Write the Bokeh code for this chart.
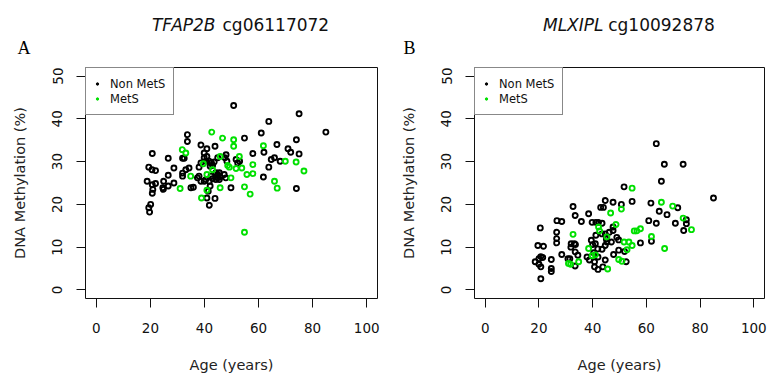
from bokeh.plotting import figure
from bokeh.layouts import row, column
from bokeh.models import Legend, LegendItem, Label, FixedTicker, Range1d
from bokeh.embed import file_html
from bokeh.resources import INLINE

# ---------------- data ----------------
X_LIM = [-4, 104]
Y_LIM = [-2, 52]
X_TICKS = [0, 20, 40, 60, 80, 100]
Y_TICKS = [0, 10, 20, 30, 40, 50]

# Panel A: TFAP2B cg06117072
A_non_age = [20.7, 19.4, 20.6, 18.8, 20.7, 20.9, 20.7, 21.9, 20.1, 19.4, 19.7, 21.9,
             26.6, 26.6, 24.9, 24.6, 26.6, 28.7, 28.7, 33.7, 33.7, 31.9, 32.5, 31.9,
             31.9, 33.1, 34.3, 35.0, 35.9, 38.7, 40.9, 43.9, 39.9, 40.9, 39.9, 40.5,
             44.9, 48.0, 47.6, 48.3, 38.7, 38.0, 41.8, 42.6, 43.6, 43.0, 42.1, 37.4,
             38.7, 38.0, 40.5, 39.9, 44.2, 44.9, 45.5, 44.9, 45.8, 44.2, 45.5, 42.4,
             43.0, 41.8, 42.1, 41.4, 47.3, 47.9, 49.8, 40.9, 43.9, 41.8, 50.8, 54.8,
             57.9, 51.7, 52.3, 53.0, 61.0, 62.0, 63.8, 64.7, 65.9, 68.0, 63.8, 61.8,
             66.8, 70.9, 71.9, 75.0, 74.0, 75.0, 74.0, 84.9, 24.8]
A_non_meth = [31.9, 28.7, 28.1, 25.4, 24.6, 23.5, 22.6, 24.9, 20.0, 19.2, 18.2, 27.9,
              30.8, 26.8, 25.4, 23.9, 24.3, 25.0, 28.5, 36.3, 34.7, 30.8, 30.8, 27.3,
              26.6, 28.1, 28.5, 23.9, 24.0, 33.9, 33.0, 33.6, 32.0, 31.2, 30.9, 30.1,
              30.9, 31.6, 30.9, 30.1, 29.7, 28.7, 30.1, 29.7, 29.9, 29.1, 28.9, 26.2,
              25.4, 26.6, 25.8, 25.4, 27.4, 27.0, 27.4, 26.2, 26.4, 25.8, 25.8, 26.6,
              26.0, 25.4, 24.3, 23.1, 27.0, 26.2, 23.9, 21.5, 21.4, 19.8, 43.1, 35.5,
              31.9, 30.5, 29.7, 30.1, 36.7, 32.2, 39.4, 30.5, 30.9, 30.1, 28.7, 26.4,
              34.0, 33.0, 32.2, 31.8, 35.1, 41.2, 23.7, 36.9, 23.5]
A_met_age = [42.7, 46.7, 50.8, 50.8, 31.8, 33.1, 61.8, 52.9, 45.8, 39.6, 43.0, 48.6,
             49.2, 51.7, 53.8, 57.9, 69.9, 73.9, 76.8, 34.9, 40.9, 49.8, 55.7, 57.9,
             31.0, 45.8, 40.9, 38.9, 54.8, 56.9, 65.9, 66.9, 54.8]
A_met_meth = [36.9, 35.5, 35.1, 33.6, 32.8, 32.0, 33.7, 31.2, 31.2, 29.5, 28.1, 29.1,
              28.7, 28.4, 28.5, 29.3, 30.1, 29.9, 27.8, 26.6, 27.0, 26.2, 27.0, 27.2,
              23.7, 23.9, 23.3, 21.5, 24.1, 22.4, 25.4, 23.8, 13.5]

# Panel B: MLXIPL cg10092878
B_non_age = [18.6, 19.6, 20.0, 20.0, 20.5, 20.7, 20.7, 20.7, 21.7, 21.4, 24.6, 24.6,
             24.6, 26.6, 26.6, 26.6, 26.7, 28.5, 28.5, 30.8, 31.5, 32.0, 33.2, 33.6,
             31.9, 32.7, 33.5, 33.5, 33.5, 34.5, 35.8, 38.5, 37.9, 38.8, 39.8, 39.5,
             40.0, 40.4, 40.7, 40.7, 41.2, 42.2, 41.2, 41.0, 41.9, 42.0, 42.0, 43.0,
             44.0, 43.5, 43.5, 43.5, 43.8, 44.7, 45.1, 44.7, 45.3, 44.7, 44.7, 46.2,
             47.0, 47.6, 47.6, 47.6, 47.8, 49.0, 49.7, 49.7, 50.7, 51.7, 51.9, 52.5,
             54.7, 57.8, 60.9, 61.7, 61.9, 63.7, 63.7, 64.8, 65.6, 66.7, 67.7, 70.8,
             71.7, 73.7, 73.9, 74.9, 74.9, 85.0]
B_non_meth = [6.6, 10.4, 7.3, 6.0, 14.5, 7.8, 5.4, 2.6, 10.2, 7.6, 7.1, 5.0,
              4.3, 13.5, 12.0, 11.0, 16.2, 16.0, 8.3, 7.3, 7.3, 10.8, 10.8, 10.6,
              10.0, 19.5, 17.4, 8.9, 5.6, 8.1, 16.0, 17.8, 7.7, 7.0, 15.8, 11.6,
              10.6, 8.7, 6.6, 5.4, 15.8, 15.8, 12.8, 10.8, 9.6, 7.7, 4.8, 19.3,
              19.3, 15.6, 13.1, 9.5, 5.4, 13.1, 11.9, 10.4, 11.2, 7.0, 20.9, 13.5,
              11.2, 20.5, 14.7, 13.9, 8.3, 12.3, 11.7, 9.3, 20.0, 24.1, 9.0, 6.6,
              20.7, 11.0, 16.2, 20.3, 11.4, 15.6, 34.2, 18.4, 25.4, 29.4, 17.6, 15.6,
              19.2, 29.4, 13.9, 15.5, 16.4, 21.5]
B_met_age = [32.7, 31.0, 31.8, 34.8, 38.5, 39.8, 41.0, 42.2, 42.6, 45.6, 45.3, 46.7,
             48.7, 49.7, 50.9, 50.7, 51.7, 53.5, 52.8, 54.7, 54.7, 55.5, 56.5, 57.8,
             61.9, 65.6, 66.8, 69.8, 73.7, 76.8]
B_met_meth = [13.0, 6.2, 6.0, 6.6, 9.7, 8.0, 8.2, 14.7, 13.8, 4.9, 12.4, 18.0,
              15.3, 7.1, 6.7, 18.9, 11.2, 11.2, 9.4, 10.4, 23.8, 13.8, 13.8, 14.3,
              12.5, 20.5, 9.7, 19.6, 16.8, 14.1]

SERIES_LABELS = ["Non MetS", "MetS"]
SERIES_COLORS = ["#000000", "#00e000"]

FONT = "DejaVu Sans"
HEADER_H = 64
PLOT_H = 312


def make_header(width, gene, probe, letter, probe_left, gene_right, letter_left):
    h = figure(width=width, height=HEADER_H, x_range=Range1d(0, width),
               y_range=Range1d(0, HEADER_H), output_backend="svg",
               toolbar_location=None, title=None,
               x_axis_location=None, y_axis_location=None,
               min_border=0, outline_line_color=None)
    h.grid.visible = False
    h.border_fill_color = "white"
    h.background_fill_color = "white"
    mid = HEADER_H - 24
    h.add_layout(Label(x=gene_right, y=mid, text=gene, text_font=FONT,
                       text_font_style="italic", text_font_size="17px",
                       text_align="right", text_baseline="middle",
                       text_color="#111111"))
    h.add_layout(Label(x=probe_left, y=mid, text=probe, text_font=FONT,
                       text_font_size="17px", text_align="left",
                       text_baseline="middle", text_color="#111111"))
    h.add_layout(Label(x=letter_left, y=HEADER_H - 47.5, text=letter,
                       text_font="Liberation Serif", text_font_size="18px",
                       text_align="left", text_baseline="middle",
                       text_color="#000000"))
    return h


def make_panel(width, min_left, frame_w, non_age, non_meth, met_age, met_meth):
    p = figure(width=width, height=PLOT_H, title=None,
               x_range=Range1d(X_LIM[0], X_LIM[1]),
               y_range=Range1d(Y_LIM[0], Y_LIM[1]),
               output_backend="svg", toolbar_location=None,
               min_border_left=min_left,
               min_border_right=width - min_left - frame_w,
               min_border_top=67 - HEADER_H, min_border_bottom=78)
    p.background_fill_color = "white"
    p.border_fill_color = "white"
    p.xgrid.visible = False
    p.ygrid.visible = False
    p.outline_line_color = "#111111"
    p.outline_line_width = 1
    p.outline_line_alpha = 1

    for ax, ticks in ((p.xaxis, X_TICKS), (p.yaxis, Y_TICKS)):
        ax.ticker = FixedTicker(ticks=ticks)
        ax.major_tick_out = 9
        ax.major_tick_in = 0
        ax.minor_tick_out = 0
        ax.minor_tick_in = 0
        ax.axis_line_color = None
        ax.major_tick_line_color = "#111111"
        ax.major_label_text_font = FONT
        ax.major_label_text_font_size = "13.5px"
        ax.major_label_text_color = "#111111"
        ax.axis_label_text_font = FONT
        ax.axis_label_text_font_size = "14.5px"
        ax.axis_label_text_font_style = "normal"
        ax.axis_label_text_color = "#222222"

    p.xaxis.major_label_standoff = 15
    p.xaxis.axis_label = "Age (years)"
    p.xaxis.axis_label_standoff = 21
    p.yaxis.major_label_orientation = "vertical"
    p.yaxis.major_label_standoff = 14
    p.yaxis.axis_label = "DNA Methylation (%)"
    p.yaxis.axis_label_standoff = 22

    p.scatter(non_age, non_meth, marker="circle", size=5, fill_color=None,
              line_color=SERIES_COLORS[0], line_width=1.9)
    p.scatter(met_age, met_meth, marker="circle", size=5, fill_color=None,
              line_color=SERIES_COLORS[1], line_width=1.9)

    # hidden renderers that only supply the small legend dots
    leg_non = p.scatter(non_age, non_meth, marker="circle", size=3.5,
                        color=SERIES_COLORS[0], visible=False)
    leg_met = p.scatter(met_age, met_meth, marker="circle", size=3.5,
                        color=SERIES_COLORS[1], visible=False)
    legend = Legend(items=[LegendItem(label=SERIES_LABELS[0], renderers=[leg_non]),
                           LegendItem(label=SERIES_LABELS[1], renderers=[leg_met])],
                    location="top_left", margin=0, padding=8, spacing=0,
                    glyph_width=6, glyph_height=15, label_height=15,
                    label_standoff=10, border_line_color="#111111",
                    border_line_width=1, label_text_font=FONT,
                    label_text_font_size="11.5px", label_text_color="#111111",
                    background_fill_color="white", background_fill_alpha=1,
                    inactive_fill_alpha=0)
    p.add_layout(legend)
    return p


hA = make_header(385, "TFAP2B", "cg06117072", "A", 222, 215, 17)
hB = make_header(384, "MLXIPL", "cg10092878", "B", 222.7, 218, 18)
pA = make_panel(385, 85, 292, A_non_age, A_non_meth, A_met_age, A_met_meth)
pB = make_panel(384, 89, 290, B_non_age, B_non_meth, B_met_age, B_met_meth)

layout = column(row(hA, hB), row(pA, pB))
open("out.html", "w").write(file_html(layout, INLINE))
